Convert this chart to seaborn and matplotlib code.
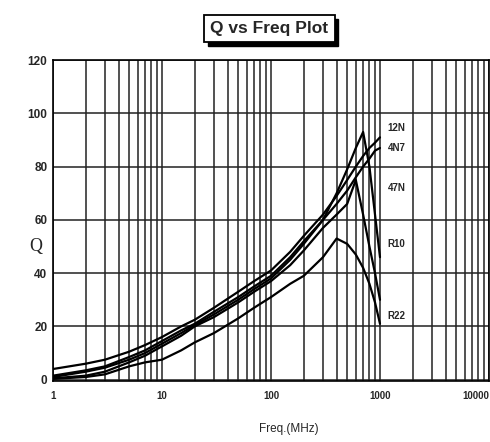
import numpy as np
import pandas as pd
import matplotlib
matplotlib.use("Agg")
import matplotlib.pyplot as plt
from matplotlib.ticker import LogLocator, FixedLocator, NullFormatter
from matplotlib.patches import Rectangle
import seaborn as sns

freq = [1, 2, 3, 5, 7, 10, 15, 20, 30, 50, 70, 100, 150, 200, 300, 400, 500, 600, 700, 800, 900, 1000]
q_12n = [4, 6, 7.5, 10.5, 13, 16, 20, 22.5, 27, 33, 37, 41, 48, 54, 62, 69, 75, 80, 84, 87, 89, 91]
q_4n7 = [1.5, 3.5, 5, 8.5, 11, 14.5, 18.5, 21, 25.5, 31, 35, 39, 46, 52, 60, 66, 71, 76, 80, 83, 86, 87]
q_47n = [1, 3, 4.5, 7.5, 10, 13.5, 17.5, 20.5, 24.5, 30, 34, 38, 45, 51, 60, 70, 79, 87, 93, 80, 62, 46]
q_r10 = [0.5, 1.5, 3, 6.5, 9, 12.5, 16.5, 20, 23.5, 29, 33, 37, 43, 48.5, 57, 62, 66, 75, 62, 50, 40, 30]
q_r22 = [0.3, 1, 2, 5, 6.5, 7.5, 11, 14, 17.5, 23, 27, 31, 36, 39, 46, 53, 51, 47, 42, 36, 29, 21]

series_names = ["12N", "4N7", "47N", "R10", "R22"]
label_q = [94.5, 87, 72, 51, 24]
x_ticks = [1, 10, 100, 1000, 10000]
x_tick_labels = ["1", "10", "100", "1000", "10000"]
y_ticks = [0, 20, 40, 60, 80, 100, 120]

df = pd.concat([
    pd.DataFrame({"freq": freq, "Q": q, "series": name})
    for name, q in zip(series_names, [q_12n, q_4n7, q_47n, q_r10, q_r22])
])

sns.set_style("white")
plt.rcParams['font.family'] = ['Liberation Sans', 'DejaVu Sans']

fig = plt.figure(figsize=(4.9, 4.42), dpi=100)
ax = fig.add_axes([0.108, 0.138, 0.89, 0.726])

sns.lineplot(data=df, x="freq", y="Q", hue="series", palette=["black"] * 5,
             legend=False, ax=ax, linewidth=1.6, sort=False)

ax.set_xscale("log")
ax.set_xlim(1, 10000)
ax.set_ylim(-0.5, 120)
ax.xaxis.set_major_locator(FixedLocator(x_ticks))
ax.set_xticklabels(x_tick_labels)
ax.xaxis.set_minor_locator(LogLocator(base=10, subs=np.arange(2, 10)))
ax.xaxis.set_minor_formatter(NullFormatter())
ax.set_yticks(y_ticks)
ax.grid(True, which="both", axis="x", color="#222222", linewidth=1.1)
ax.grid(True, which="major", axis="y", color="#222222", linewidth=1.1)
ax.tick_params(axis="both", which="both", length=0)
xl = ax.get_xticklabels()
for lab in xl:
    lab.set_fontsize(7)
    lab.set_fontweight("bold")
xl[-1].set_horizontalalignment("right")
for lab in ax.get_yticklabels():
    lab.set_fontsize(8.5)
    lab.set_fontweight("bold")
ax.tick_params(axis="x", pad=7)
ax.tick_params(axis="y", pad=4)
for s in ax.spines.values():
    s.set_color("black")
    s.set_linewidth(1.2)

ax.set_xlabel("Freq.(MHz)", fontsize=8.5)
ax.set_ylabel("Q", fontsize=13, family=["Liberation Serif"], rotation=0, va="center")
ax.yaxis.set_label_coords(-0.04, 0.42)
ax.xaxis.set_label_coords(0.54, -0.13)

for name, qv in zip(series_names, label_q):
    ax.text(1180, qv, name, fontsize=7, fontweight="bold", ha="left", va="center")

# title in a box with a drop shadow
title = fig.text(0.55, 0.935, "Q vs Freq Plot", ha="center", va="center", fontsize=12.5,
                 fontweight="bold", zorder=5,
                 bbox=dict(boxstyle="square,pad=0.35", facecolor="white",
                           edgecolor="black", linewidth=1.3))
fig.canvas.draw()
bb = title.get_bbox_patch().get_window_extent(fig.canvas.get_renderer())
bbf = bb.transformed(fig.transFigure.inverted())
dx, dy = 3.5 / 490, -3.5 / 442
fig.patches.append(Rectangle((bbf.x0 + dx, bbf.y0 + dy), bbf.width, bbf.height,
                             transform=fig.transFigure, facecolor="black",
                             edgecolor="black", zorder=4))

fig.savefig("out.png", dpi=100)
